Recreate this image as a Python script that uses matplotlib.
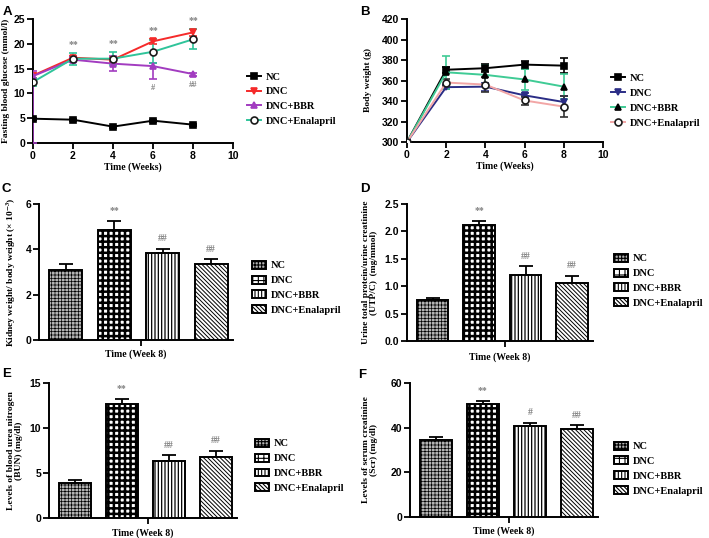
import matplotlib
matplotlib.use("Agg")
import matplotlib.pyplot as plt
import numpy as np

GROUPS = ["NC", "DNC", "DNC+BBR", "DNC+Enalapril"]
WEEKS = [0, 2, 4, 6, 8]

# panel A - fasting blood glucose
A_NC = [4.9, 4.7, 3.3, 4.5, 3.7]
A_NC_ERR = [0.2, 0.2, 0.2, 0.2, 0.2]
A_DNC = [13.6, 17.2, 16.8, 20.5, 22.3]
A_DNC_ERR = [0.5, 0.4, 0.4, 0.5, 0.7]
A_BBR = [13.5, 16.8, 16.0, 15.5, 13.9]
A_BBR_LO = [13.5, 0.5, 1.5, 2.5, 0.3]
A_BBR_HI = [1.1, 0.5, 1.5, 0.7, 0.3]
A_ENA = [12.3, 17.0, 17.0, 18.4, 20.9]
A_ENA_ERR = [0.9, 1.2, 1.3, 2.3, 2.0]
A_STARS = ["", "**", "**", "**", "**"]
A_HASH = ["", "", "", "#", "##"]

# panel B - body weight
B_NC = [300, 370.5, 372, 375.5, 374.5]
B_NC_ERR = [0, 3, 4, 4, 7]
B_DNC = [300, 353.5, 354, 345.5, 339]
B_DNC_ERR = [0, 2, 4, 2, 6]
B_BBR = [300, 368, 365.5, 361, 354]
B_BBR_ERR = [0, 16, 10, 10, 12]
B_ENA = [300, 358, 356, 340.5, 334.5]
B_ENA_ERR = [0, 3, 7, 4, 10]

# panels C-F - week 8 bars
C_VAL = [3.1, 4.85, 3.82, 3.37]
C_ERR = [0.25, 0.42, 0.2, 0.2]
C_MARK = ["", "**", "##", "##"]
D_VAL = [0.75, 2.12, 1.21, 1.06]
D_ERR = [0.03, 0.07, 0.15, 0.13]
D_MARK = ["", "**", "##", "##"]
E_VAL = [3.85, 12.7, 6.35, 6.8]
E_ERR = [0.35, 0.55, 0.6, 0.65]
E_MARK = ["", "**", "##", "##"]
F_VAL = [34.5, 50.8, 40.8, 39.3]
F_ERR = [1.3, 1.2, 1.4, 1.8]
F_MARK = ["", "**", "#", "##"]

SANS = "Liberation Sans"
SERIF = "Liberation Serif"
MARK_COL = "#808080"
HATCHES = ["+++++", "+++", "|||||", "\\\\\\\\\\\\\\\\"]
HATCH_LW = [0.5, 1.8, 0.9, 0.7]
FACES = ["#b4b4b4", "white", "white", "white"]

plt.rcParams["font.family"] = SANS
plt.rcParams["font.weight"] = "bold"
plt.rcParams["mathtext.fontset"] = "stix"
plt.rcParams["hatch.linewidth"] = 0.8


def _style(ax):
    for side in ("top", "right"):
        ax.spines[side].set_visible(False)
    for side in ("left", "bottom"):
        ax.spines[side].set_linewidth(1.4)
    ax.tick_params(width=1.3, length=4, labelsize=7.5, pad=1.5)
    for lab in ax.get_xticklabels() + ax.get_yticklabels():
        lab.set_fontweight("bold")
        lab.set_fontfamily(SANS)


def _label(ax, text, xlab, ylab_x, xlab_y):
    ax.set_ylabel(text, fontfamily=SERIF, fontweight="bold", fontsize=6.8,
                  linespacing=1.0)
    ax.yaxis.set_label_coords(ylab_x, 0.5)
    ax.set_xlabel(xlab, fontfamily=SERIF, fontweight="bold", fontsize=7)
    ax.xaxis.set_label_coords(0.5, xlab_y)


def _legend(ax, handles, x, y):
    ax.legend(handles=handles, labels=GROUPS, loc="center left",
              bbox_to_anchor=(x, y), bbox_transform=ax.figure.transFigure,
              frameon=False, borderpad=0, borderaxespad=0,
              handlelength=1.35, handleheight=0.8, handletextpad=0.45,
              labelspacing=0.5,
              prop=dict(family=SERIF, weight="bold", size=7.5))


def _lines(ax, series, colors, mcolors, markers, mfaces, ecolors):
    handles = []
    for (y, lo, hi), c, mc, m, mf, ec in zip(series, colors, mcolors,
                                             markers, mfaces, ecolors):
        ax.errorbar(WEEKS, y, yerr=[lo, hi], color=c, ecolor=ec,
                    elinewidth=1.2, capsize=3, capthick=1.2, lw=1.4,
                    marker=m, ms=5, mfc=mf, mec=mc, mew=1.2, zorder=3)
        h, = ax.plot([], [], color=c, lw=1.4, marker=m, ms=5, mfc=mf,
                     mec=mc, mew=1.2)
        handles.append(h)
    return handles


def _hatch_lw(patch, lw):
    if hasattr(patch, "set_hatch_linewidth"):
        patch.set_hatch_linewidth(lw)


def _bars(ax, vals, errs, marks, ylim, yticks):
    x = np.arange(len(vals))
    bars = ax.bar(x, vals, width=0.68, color=FACES, edgecolor="black",
                  linewidth=1.4, zorder=3)
    for b, h, lw in zip(bars, HATCHES, HATCH_LW):
        b.set_hatch(h)
        _hatch_lw(b, lw)
    ax.errorbar(x, vals, yerr=[np.zeros(len(vals)), errs], fmt="none",
                ecolor="black", elinewidth=1.3, capsize=5, capthick=1.3,
                zorder=2)
    for xi, v, e, t in zip(x, vals, errs, marks):
        if t:
            ax.annotate(t, (xi, v + e), xytext=(0, 4),
                        textcoords="offset points", ha="center", va="bottom",
                        fontsize=7, color=MARK_COL, fontfamily=SERIF)
    ax.set_xlim(-0.55, 3.45)
    ax.set_ylim(*ylim)
    ax.set_yticks(yticks)
    ax.set_xticks([1.55])
    ax.set_xticklabels([""])
    return list(bars)


fig = plt.figure(figsize=(7.09, 5.38), dpi=100)
W, H = 709, 538


def _axes(l, r, t, b):
    return fig.add_axes([l / W, 1 - b / H, (r - l) / W, (b - t) / H])


ax_a = _axes(33, 233, 19, 143)
ax_b = _axes(407, 603, 19, 142)
ax_c = _axes(39, 233, 204, 340)
ax_d = _axes(407, 593, 204, 341)
ax_e = _axes(49, 237, 383, 518)
ax_f = _axes(410, 598, 383, 517)

# A
h_a = _lines(
    ax_a,
    [(A_NC, A_NC_ERR, A_NC_ERR), (A_DNC, A_DNC_ERR, A_DNC_ERR),
     (A_BBR, A_BBR_LO, A_BBR_HI), (A_ENA, A_ENA_ERR, A_ENA_ERR)],
    ["black", "#f52a2a", "#a23cc0", "#2fc49a"],
    ["black", "#f52a2a", "#a23cc0", "#1a1a1a"],
    ["s", "v", "^", "o"],
    ["black", "#f52a2a", "#a23cc0", "white"],
    ["black", "#f52a2a", "#a23cc0", "#2fc49a"])
top = np.max([np.add(A_DNC, A_DNC_ERR), np.add(A_ENA, A_ENA_ERR),
              np.add(A_BBR, A_BBR_HI)], axis=0)
low = np.subtract(A_BBR, A_BBR_LO)
for w, tp, lw_, s, hsh in zip(WEEKS, top, low, A_STARS, A_HASH):
    if s:
        ax_a.annotate(s, (w, tp), xytext=(0, 3), textcoords="offset points",
                      ha="center", va="bottom", fontsize=7, color=MARK_COL,
                      fontfamily=SERIF)
    if hsh:
        ax_a.annotate(hsh, (w, lw_), xytext=(0, -4),
                      textcoords="offset points", ha="center", va="top",
                      fontsize=6, color=MARK_COL, fontfamily=SERIF)
ax_a.set_xlim(0, 10)
ax_a.set_ylim(0, 25)
ax_a.set_xticks([0, 2, 4, 6, 8, 10])
ax_a.set_yticks([0, 5, 10, 15, 20, 25])
_style(ax_a)
_label(ax_a, "Fasting blood glucose (mmol/l)", "Time (Weeks)", -0.115, -0.16)
_legend(ax_a, h_a, 0.348, 0.816)

# B
h_b = _lines(
    ax_b,
    [(B_NC, B_NC_ERR, B_NC_ERR), (B_DNC, B_DNC_ERR, B_DNC_ERR),
     (B_BBR, B_BBR_ERR, B_BBR_ERR), (B_ENA, B_ENA_ERR, B_ENA_ERR)],
    ["black", "#2b2d86", "#3fcb95", "#f2a6a6"],
    ["black", "#2b2d86", "black", "#1a1a1a"],
    ["s", "v", "^", "o"],
    ["black", "#2b2d86", "black", "white"],
    ["black", "#2b2d86", "#3fcb95", "#333333"])
ax_b.set_xlim(0, 10)
ax_b.set_ylim(300, 420)
ax_b.set_xticks([0, 2, 4, 6, 8, 10])
ax_b.set_yticks([300, 320, 340, 360, 380, 400, 420])
_style(ax_b)
_label(ax_b, "Body weight (g)", "Time (Weeks)", -0.18, -0.16)
_legend(ax_b, h_b, 0.862, 0.813)

# C - F
panels = [
    (ax_c, C_VAL, C_ERR, C_MARK, (0, 6), [0, 2, 4, 6],
     "Kidney weight/ body weight (× 10$^{-3}$)", -0.108, -0.066,
     0.355, 0.465),
    (ax_d, D_VAL, D_ERR, D_MARK, (0, 2.5), [0, 0.5, 1.0, 1.5, 2.0, 2.5],
     "Urine total protein/urine creatinine\n(UTP/C)  (mg/mmol)", -0.156,
     -0.08, 0.866, 0.478),
    (ax_e, E_VAL, E_ERR, E_MARK, (0, 15), [0, 5, 10, 15],
     "Levels of blood urea nitrogen\n(BUN) (mg/dl)", -0.138, -0.074,
     0.36, 0.134),
    (ax_f, F_VAL, F_ERR, F_MARK, (0, 60), [0, 20, 40, 60],
     "Levels of serum creatinine\n(Scr) (mg/dl)", -0.17, -0.067,
     0.866, 0.129),
]
for ax, v, e, m, yl, yt, lab, lx, ly, gx, gy in panels:
    hb = _bars(ax, v, e, m, yl, yt)
    _style(ax)
    _label(ax, lab, "Time (Week 8)", lx, ly)
    _legend(ax, hb, gx, gy)
ax_d.yaxis.set_major_formatter(matplotlib.ticker.FormatStrFormatter("%.1f"))
for lab in ax_d.get_yticklabels():
    lab.set_fontweight("bold")

for letter, x, y in [("A", 3, 6), ("B", 360, 6), ("C", 2, 183),
                     ("D", 360, 183), ("E", 2, 368), ("F", 358, 369)]:
    fig.text(x / W, 1 - y / H, letter, fontsize=9.5, fontweight="bold",
             fontfamily=SANS, va="top", ha="left")

fig.savefig("out.png", dpi=100)
